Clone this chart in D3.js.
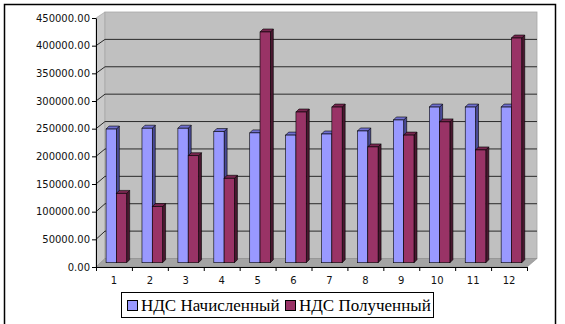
<!DOCTYPE html>
<html>
<head>
<meta charset="utf-8">
<script src="https://cdn.jsdelivr.net/npm/d3@7"></script>
<style>
  body { margin: 0; background: #fff; }
  svg { display: block; }
</style>
</head>
<body>
<div id="chart"></div>
<script>
var months = ["1", "2", "3", "4", "5", "6", "7", "8", "9", "10", "11", "12"];
var nachislen = [243000, 244500, 244500, 238500, 236000, 232000, 234000, 239500, 259500, 283000, 283000, 283000];
var poluchen = [126000, 102000, 194500, 153500, 419500, 274000, 283000, 210500, 232000, 256000, 205000, 408500];
var seriesNames = ["НДС Начисленный", "НДС Полученный"];
var yTicks = [0, 50000, 100000, 150000, 200000, 250000, 300000, 350000, 400000, 450000];

var W = 565, H = 324;
var svg = d3.select("#chart").append("svg")
    .attr("width", W)
    .attr("height", H);

// outer frame
svg.append("rect")
    .attr("x", 4.5).attr("y", 4.5)
    .attr("width", 551).attr("height", 340)
    .attr("fill", "#fff")
    .attr("stroke", "#000")
    .attr("stroke-width", 1.5);

// front plane, back wall and bar depth
var xBand = d3.scaleBand().domain(months).range([96, 527]);
var xEdge = d3.scaleLinear().domain([0, 12]).range([96, 527]);
var yFront = d3.scaleLinear().domain([0, 450000]).range([267, 18]);
var yBack = d3.scaleLinear().domain([0, 450000]).range([258.5, 12]);
var yBar = d3.scaleLinear().domain([0, 450000]).range([262.7, 15.2]);
var dx = 9;
var backL = 96 + dx, backR = 527 + dx + 1;

// side wall
svg.append("polygon")
    .attr("points", [[96, yFront(450000)], [backL, yBack(450000)], [backL, yBack(0)], [96, yFront(0)]].join(" "))
    .attr("fill", "#cacaca")
    .attr("stroke", "#9a9a9a")
    .attr("stroke-width", 0.6);

// back wall
svg.append("rect")
    .attr("x", backL).attr("y", yBack(450000))
    .attr("width", backR - backL).attr("height", yBack(0) - yBack(450000))
    .attr("fill", "#c0c0c0")
    .attr("stroke", "#a8a8a8")
    .attr("stroke-width", 0.8);

// floor
svg.append("polygon")
    .attr("points", [[96, yFront(0)], [527, yFront(0)], [backR, yBack(0)], [backL, yBack(0)]].join(" "))
    .attr("fill", "#a4a4a4")
    .attr("stroke", "#8a8a8a")
    .attr("stroke-width", 0.6);

// gridlines
var grid = svg.append("g");
grid.selectAll("line.back")
    .data(yTicks.slice(1, -1))
  .enter().append("line")
    .attr("x1", backL).attr("x2", backR)
    .attr("y1", function(d) { return yBack(d); })
    .attr("y2", function(d) { return yBack(d); })
    .attr("stroke", "#2a2a2a")
    .attr("stroke-width", 1);
grid.selectAll("line.side")
    .data(yTicks.slice(1, -1))
  .enter().append("line")
    .attr("x1", 96).attr("x2", backL)
    .attr("y1", function(d) { return yFront(d); })
    .attr("y2", function(d) { return yBack(d); })
    .attr("stroke", "#2a2a2a")
    .attr("stroke-width", 1);

// bars
var barW = 10.3, bdx = 2.4, d3x = 3, d3y = 3;
var colors = [
  { front: "#9999ff", top: "#7070d0", side: "#4a4a96" },
  { front: "#993366", top: "#77264f", side: "#4a1830" }
];
var series = [nachislen, poluchen];

function drawBar(g, x, v, c) {
  var y0 = yBar(0), yv = yBar(v);
  g.append("polygon")
      .attr("points", [[x + barW, yv], [x + barW + d3x, yv - d3y], [x + barW + d3x, y0 - d3y], [x + barW, y0]].join(" "))
      .attr("fill", c.side).attr("stroke", "#000").attr("stroke-width", 0.6);
  g.append("polygon")
      .attr("points", [[x, yv], [x + d3x, yv - d3y], [x + barW + d3x, yv - d3y], [x + barW, yv]].join(" "))
      .attr("fill", c.top).attr("stroke", "#000").attr("stroke-width", 0.6);
  g.append("rect")
      .attr("x", x).attr("y", yv)
      .attr("width", barW).attr("height", y0 - yv)
      .attr("fill", c.front).attr("stroke", "#000").attr("stroke-width", 0.6);
}

var bars = svg.append("g");
months.forEach(function(m, i) {
  var cx = xBand(m) + xBand.bandwidth() / 2 + bdx;
  series.forEach(function(s, k) {
    drawBar(bars, cx - barW + k * barW, s[i], colors[k]);
  });
});

// y axis
var yAxis = svg.append("g")
    .attr("transform", "translate(96,0)")
    .call(d3.axisLeft(yFront).tickValues(yTicks).tickFormat(d3.format(".2f")).tickSize(4).tickSizeOuter(0).tickPadding(2));
yAxis.selectAll("text")
    .attr("font-family", "DejaVu Sans, Verdana, sans-serif")
    .attr("font-size", 10)
    .attr("fill", "#111");
yAxis.selectAll("line, path").attr("stroke", "#000");

// x axis: ticks at category edges, labels at centres
var xTicks = svg.append("g")
    .attr("transform", "translate(0," + yFront(0) + ")")
    .call(d3.axisBottom(xEdge).ticks(12).tickFormat("").tickSize(4).tickSizeOuter(0));
xTicks.selectAll("line, path").attr("stroke", "#000");

var xLabels = svg.append("g")
    .attr("transform", "translate(0," + yFront(0) + ")")
    .call(d3.axisBottom(xBand).tickSize(0).tickPadding(10));
xLabels.select(".domain").remove();
xLabels.selectAll("text")
    .attr("font-family", "DejaVu Sans, Verdana, sans-serif")
    .attr("font-size", 10)
    .attr("fill", "#111");

// legend
var legend = svg.append("g");
legend.append("rect")
    .attr("x", 121.5).attr("y", 292.5)
    .attr("width", 312).attr("height", 25)
    .attr("fill", "#fff")
    .attr("stroke", "#000")
    .attr("stroke-width", 1);
var legX = [127, 285];
seriesNames.forEach(function(name, k) {
  legend.append("rect")
      .attr("x", legX[k] + 0.5).attr("y", 300.5)
      .attr("width", 10).attr("height", 10)
      .attr("fill", colors[k].front)
      .attr("stroke", "#000")
      .attr("stroke-width", 1);
  legend.append("text")
      .attr("x", legX[k] + 14).attr("y", 311)
      .attr("font-family", "Liberation Serif, Times New Roman, serif")
      .attr("font-size", 17)
      .attr("fill", "#000")
      .text(name);
});
</script>
</body>
</html>
